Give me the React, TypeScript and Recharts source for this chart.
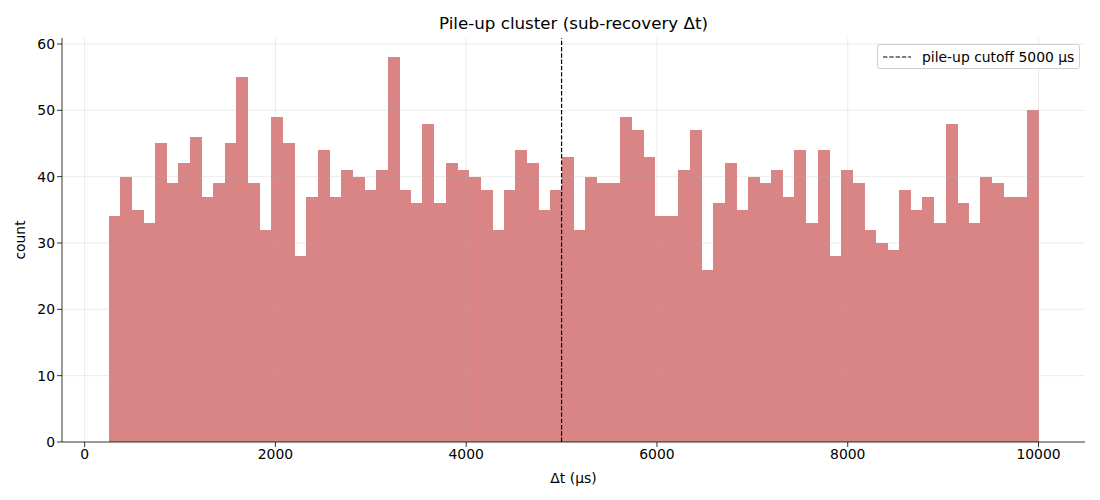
import React from "react";
import {
  BarChart,
  Bar,
  XAxis,
  YAxis,
  ReferenceLine,
  Legend,
} from "recharts";

// Histogram of Δt between hits, 80 bins from 250 to 10000 µs.
const BIN_START = 250;
const BIN_WIDTH = 121.875;
const COUNTS = [
  34, 40, 35, 33, 45, 39, 42, 46, 37, 39, 45, 55, 39, 32, 49, 45, 28, 37, 44, 37,
  41, 40, 38, 41, 58, 38, 36, 48, 36, 42, 41, 40, 38, 32, 38, 44, 42, 35, 38, 43,
  32, 40, 39, 39, 49, 47, 43, 34, 34, 41, 47, 26, 36, 42, 35, 40, 39, 41, 37, 44,
  33, 44, 28, 41, 39, 32, 30, 29, 38, 35, 37, 33, 48, 36, 33, 40, 39, 37, 37, 50,
];
const X_TICKS = [0, 2000, 4000, 6000, 8000, 10000];
const Y_TICKS = [0, 10, 20, 30, 40, 50, 60];
const CUTOFF = 5000;

const data = COUNTS.map((count, i) => ({
  center: BIN_START + (i + 0.5) * BIN_WIDTH,
  count,
}));

const FONT = "'DejaVu Sans', sans-serif";
const FS = 13.9;
const tickStyle = { fill: "#000", fontSize: FS, fontFamily: FONT };
const DASH = "4.4 1.9";
const GRID = "rgba(176,176,176,0.3)";

function CutoffLegend() {
  return (
    <div
      style={{
        display: "flex",
        alignItems: "center",
        background: "rgba(255,255,255,0.8)",
        border: "1px solid #d0d0d0",
        borderRadius: 3,
        height: 23,
        padding: "0 5px 0 5px",
        fontFamily: FONT,
        fontSize: FS,
        color: "#000",
        whiteSpace: "nowrap",
      }}
    >
      <svg width={28} height={10} style={{ marginRight: 11 }}>
        <line
          x1={0}
          y1={5}
          x2={28}
          y2={5}
          stroke="#000"
          strokeWidth={1.2}
          strokeDasharray={DASH}
        />
      </svg>
      pile-up cutoff 5000 µs
    </div>
  );
}

export default function App() {
  return (
    <div
      style={{
        position: "absolute",
        left: 0,
        top: 0,
        width: 1100,
        height: 500,
        background: "#fff",
        fontFamily: FONT,
      }}
    >
      <div
        style={{
          position: "absolute",
          top: 13,
          left: 62,
          width: 1023,
          textAlign: "center",
          fontSize: 16.7,
        }}
      >
        Pile-up cluster (sub-recovery Δt)
      </div>
      <BarChart
        width={1100}
        height={500}
        data={data}
        margin={{ top: 38, right: 15, bottom: 28, left: 12 }}
        barCategoryGap={0}
        barGap={0}
      >
        <XAxis
          dataKey="center"
          type="number"
          domain={[-237.5, 10487.5]}
          ticks={X_TICKS}
          allowDataOverflow
          height={30}
          tick={tickStyle}
          tickLine={{ stroke: "#000", strokeWidth: 0.8 }}
          tickSize={5}
          axisLine={{ stroke: "#000", strokeWidth: 0.8 }}
          label={{
            value: "Δt (µs)",
            position: "insideBottom",
            offset: -11,
            style: { fill: "#000", fontSize: FS, fontFamily: FONT },
          }}
        />
        <YAxis
          type="number"
          domain={[0, 60.9]}
          ticks={Y_TICKS}
          allowDataOverflow
          width={50}
          tick={tickStyle}
          tickLine={{ stroke: "#000", strokeWidth: 0.8 }}
          tickSize={5}
          axisLine={{ stroke: "#000", strokeWidth: 0.8 }}
          label={{
            value: "count",
            angle: -90,
            position: "insideLeft",
            offset: 8,
            style: {
              fill: "#000",
              fontSize: FS,
              fontFamily: FONT,
              textAnchor: "middle",
            },
          }}
        />
        <Bar
          dataKey="count"
          fill="#d98585"
          shapeRendering="crispEdges"
          isAnimationActive={false}
        />
        {X_TICKS.map((t) => (
          <ReferenceLine key={`gx${t}`} x={t} stroke={GRID} strokeWidth={0.8} />
        ))}
        {Y_TICKS.filter((t) => t > 0).map((t) => (
          <ReferenceLine key={`gy${t}`} y={t} stroke={GRID} strokeWidth={0.8} />
        ))}
        <ReferenceLine
          x={CUTOFF}
          stroke="#000"
          strokeWidth={1.2}
          strokeDasharray={DASH}
        />
        <Legend
          layout="vertical"
          align="center"
          verticalAlign="middle"
          content={() => <CutoffLegend />}
          wrapperStyle={{ top: 44, left: 877, width: "auto" }}
        />
      </BarChart>
    </div>
  );
}
